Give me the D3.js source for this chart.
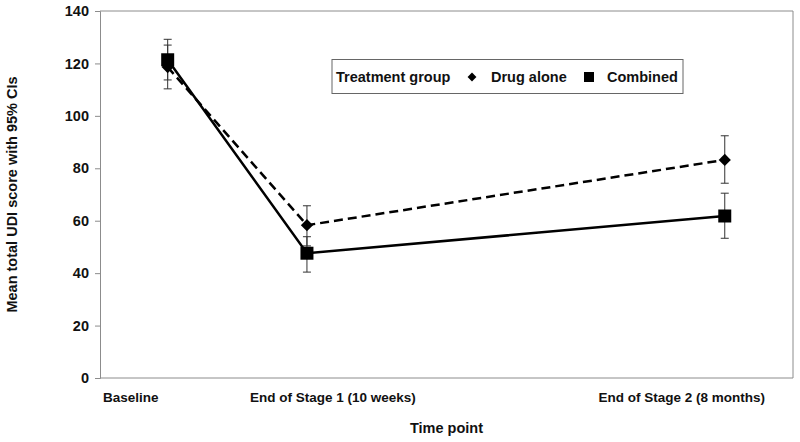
<!DOCTYPE html>
<html>
<head>
<meta charset="utf-8">
<script src="https://cdn.jsdelivr.net/npm/d3@7"></script>
<style>
  html, body { margin: 0; padding: 0; background: #fff; }
  svg text { font-family: "Liberation Sans", Arial, sans-serif; font-weight: bold; fill: #111; }
</style>
</head>
<body>
<div id="chart"></div>
<script>
// ---- data ----
const timeLabels = ["Baseline", "End of Stage 1 (10 weeks)", "End of Stage 2 (8 months)"];
const timeWeeks = [0, 10, 40];
const drugMean = [118.6, 58.3, 83.2];
const drugLow  = [110.3, 50.4, 74.3];
const drugHigh = [127.0, 65.7, 92.4];
const combMean = [121.4, 47.6, 61.8];
const combLow  = [113.7, 40.4, 53.3];
const combHigh = [129.2, 53.9, 70.5];
const yTicks = [0, 20, 40, 60, 80, 100, 120, 140];
const seriesNames = ["Drug alone", "Combined"];

// ---- layout ----
const W = 800, H = 442;
const mLeft = 100, mRight = 793, mTop = 11, mBottom = 378;

const svg = d3.select("#chart").append("svg").attr("width", W).attr("height", H);

const x = d3.scaleLinear().domain([-4.86, 44.9]).range([mLeft, mRight]);
const y = d3.scaleLinear().domain([0, 140]).range([mBottom, mTop]);

// frame (top & right)
svg.append("path")
  .attr("d", `M${mLeft},${mTop}H${mRight}V${mBottom}`)
  .attr("fill", "none").attr("stroke", "#8c8c8c").attr("stroke-width", 1);

// y axis
const yAxis = svg.append("g").attr("transform", `translate(${mLeft},0)`)
  .call(d3.axisLeft(y).tickValues(yTicks).tickSize(5).tickPadding(6).tickFormat(d3.format("d")));
yAxis.select(".domain").attr("stroke", "#8c8c8c");
yAxis.selectAll(".tick line").attr("stroke", "#8c8c8c");
yAxis.selectAll(".tick text").style("font-size", "14.5px").style("font-family", "'Liberation Sans', Arial, sans-serif").style("font-weight", "bold").attr("fill", "#111");

// x axis line
svg.append("line").attr("x1", mLeft).attr("x2", mRight).attr("y1", mBottom).attr("y2", mBottom)
  .attr("stroke", "#8c8c8c");

// x category labels (offset from data points as in original)
const labelOffsets = [-37, 26, -43];
svg.append("g").selectAll("text").data(timeLabels).join("text")
  .attr("x", (d, i) => x(timeWeeks[i]) + labelOffsets[i])
  .attr("y", 402)
  .attr("text-anchor", "middle")
  .style("font-size", "13.5px")
  .text(d => d);

// axis titles
svg.append("text").attr("x", (mLeft + mRight) / 2).attr("y", 433).attr("text-anchor", "middle")
  .style("font-size", "14.5px").text("Time point");
svg.append("text").attr("transform", `translate(17,${(mTop + mBottom) / 2}) rotate(-90)`)
  .attr("text-anchor", "middle").style("font-size", "14.5px").text("Mean total UDI score with 95% CIs");

// series
const idx = d3.range(timeWeeks.length);
const line = (arr) => d3.line().x(i => x(timeWeeks[i])).y(i => y(arr[i]))(idx);

function errorBars(low, high) {
  const g = svg.append("g").attr("stroke", "#333").attr("stroke-width", 1);
  idx.forEach(i => {
    const cx = x(timeWeeks[i]);
    g.append("line").attr("x1", cx).attr("x2", cx).attr("y1", y(low[i])).attr("y2", y(high[i]));
    g.append("line").attr("x1", cx - 4).attr("x2", cx + 4).attr("y1", y(low[i])).attr("y2", y(low[i]));
    g.append("line").attr("x1", cx - 4).attr("x2", cx + 4).attr("y1", y(high[i])).attr("y2", y(high[i]));
  });
}
errorBars(drugLow, drugHigh);
errorBars(combLow, combHigh);

svg.append("path").attr("d", line(drugMean)).attr("fill", "none").attr("stroke", "#000")
  .attr("stroke-width", 2.5).attr("stroke-dasharray", "9,5");
svg.append("path").attr("d", line(combMean)).attr("fill", "none").attr("stroke", "#000")
  .attr("stroke-width", 2.5);

const diamond = d3.symbol().type(d3.symbolDiamond2).size(95);

svg.append("g").selectAll("path").data(idx).join("path")
  .attr("d", diamond)
  .attr("transform", i => `translate(${x(timeWeeks[i])},${y(drugMean[i])})`)
  .attr("fill", "#000");
svg.append("g").selectAll("path").data(idx).join("path")
  .attr("d", d3.symbol().type(d3.symbolSquare).size(169))
  .attr("transform", i => `translate(${x(timeWeeks[i])},${y(combMean[i])})`)
  .attr("fill", "#000");

// legend
const lg = svg.append("g");
lg.append("rect").attr("x", 332).attr("y", 59.5).attr("width", 351).attr("height", 34)
  .attr("fill", "#fff").attr("stroke", "#666").attr("stroke-width", 1);
lg.append("text").attr("x", 336).attr("y", 82).style("font-size", "14.5px").text("Treatment group");
lg.append("path").attr("d", d3.symbol().type(d3.symbolDiamond2).size(50))
  .attr("transform", "translate(472,77)").attr("fill", "#000");
lg.append("text").attr("x", 491).attr("y", 82).style("font-size", "14.5px").text(seriesNames[0]);
lg.append("path").attr("d", d3.symbol().type(d3.symbolSquare).size(100))
  .attr("transform", "translate(589,77)").attr("fill", "#000");
lg.append("text").attr("x", 607).attr("y", 82).style("font-size", "14.5px").text(seriesNames[1]);
</script>
</body>
</html>
